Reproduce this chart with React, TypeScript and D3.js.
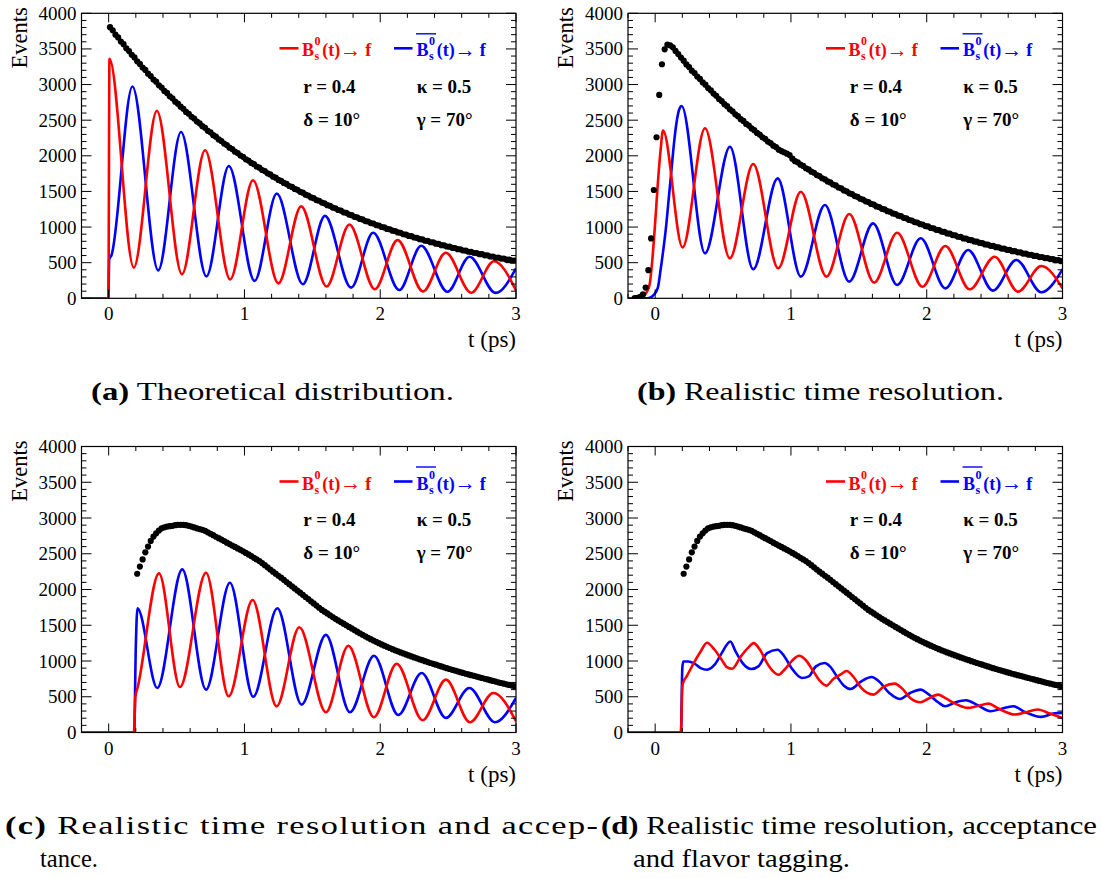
import React from 'react';
import * as d3 from 'd3';

// ---------- data ----------
const T_DOMAIN: [number, number] = [-0.2, 3];
const Y_DOMAIN: [number, number] = [0, 4000];
const X_MAJOR = [0, 1, 2, 3];
const Y_MAJOR = [0, 500, 1000, 1500, 2000, 2500, 3000, 3500, 4000];
const BIN_WIDTH = 0.02;

// black points (sum), bin centres start at *_first, step BIN_WIDTH
const blackA_first = 0.01;
const blackA = [
  3805, 3762, 3700, 3661, 3604, 3566, 3508, 3470, 3418, 3381,
  3326, 3290, 3238, 3205, 3152, 3120, 3070, 3040, 2990, 2958,
  2910, 2882, 2835, 2806, 2760, 2731, 2689, 2660, 2616, 2590,
  2548, 2522, 2480, 2456, 2416, 2392, 2351, 2329, 2290, 2268,
  2230, 2208, 2171, 2150, 2114, 2094, 2058, 2039, 2004, 1986,
  1951, 1933, 1900, 1883, 1850, 1833, 1801, 1785, 1754, 1738,
  1707, 1693, 1662, 1648, 1619, 1605, 1576, 1563, 1535, 1522,
  1494, 1482, 1455, 1443, 1416, 1405, 1379, 1369, 1343, 1333,
  1307, 1298, 1273, 1264, 1239, 1231, 1207, 1199, 1175, 1167,
  1144, 1137, 1114, 1107, 1084, 1078, 1056, 1050, 1028, 1022,
  1001, 995, 974, 969, 949, 944, 924, 919, 899, 895,
  876, 872, 853, 849, 830, 827, 808, 806, 787, 785,
  766, 764, 746, 744, 727, 725, 708, 706, 689, 688,
  671, 670, 653, 652, 636, 635, 619, 619, 603, 603,
  587, 587, 572, 572, 557, 557, 542, 543, 528, 529,
];

const blackB_first = -0.19;
const blackB = [
  0, 0, 3, 8, 22, 55, 150, 395, 840, 1520,
  2260, 2855, 3285, 3495, 3560, 3550, 3522, 3472, 3428, 3378,
  3335, 3282, 3246, 3195, 3161, 3112, 3079, 3030, 2998, 2950,
  2919, 2873, 2843, 2797, 2768, 2724, 2696, 2652, 2625, 2582,
  2556, 2514, 2489, 2448, 2424, 2384, 2360, 2321, 2298, 2260,
  2238, 2200, 2179, 2142, 2122, 2086, 2066, 2050, 2030, 2010,
  1960, 1925, 1908, 1875, 1858, 1825, 1809, 1777, 1762, 1730,
  1715, 1685, 1670, 1640, 1627, 1597, 1584, 1555, 1543, 1514,
  1502, 1474, 1463, 1435, 1424, 1397, 1387, 1361, 1351, 1325,
  1315, 1290, 1281, 1256, 1247, 1223, 1215, 1191, 1183, 1159,
  1152, 1129, 1122, 1099, 1092, 1070, 1064, 1042, 1036, 1014,
  1009, 987, 982, 961, 957, 936, 932, 911, 907, 887,
  884, 864, 861, 841, 838, 819, 816, 798, 795, 777,
  774, 756, 754, 736, 735, 717, 716, 698, 697, 680,
  679, 662, 661, 645, 644, 628, 627, 611, 611, 595,
  595, 579, 580, 564, 565, 550, 550, 535, 536, 521,
];

const blackCD_first = 0.21;
const blackCD = [
  2220, 2320, 2420, 2520, 2600, 2680, 2740, 2785, 2825, 2855,
  2870, 2880, 2885, 2890, 2900, 2905, 2905, 2905, 2900, 2890,
  2880, 2868, 2855, 2845, 2835, 2820, 2800, 2780, 2760, 2738,
  2718, 2698, 2678, 2655, 2635, 2615, 2595, 2575, 2555, 2535,
  2512, 2490, 2467, 2443, 2420, 2398, 2370, 2340, 2310, 2280,
  2250, 2222, 2192, 2165, 2135, 2105, 2075, 2045, 2015, 1985,
  1955, 1925, 1895, 1866, 1835, 1805, 1775, 1745, 1715, 1690,
  1665, 1640, 1615, 1590, 1567, 1545, 1522, 1500, 1477, 1455,
  1432, 1410, 1388, 1366, 1345, 1325, 1305, 1286, 1268, 1250,
  1232, 1215, 1198, 1182, 1166, 1150, 1135, 1120, 1106, 1092,
  1078, 1064, 1050, 1037, 1024, 1011, 998, 985, 972, 960,
  948, 936, 924, 912, 900, 888, 877, 866, 855, 844,
  833, 822, 812, 802, 792, 782, 772, 762, 752, 742,
  732, 722, 712, 702, 692, 683, 674, 665, 656, 647,
];

// red = B0s -> f, blue = anti-B0s -> f ; [t (ps), events]
const redA: [number, number][] = [
  [-0.2, 0], [-0.002, 0], [0.006, 3360], [0.185, 430], [0.355, 2630], [0.54, 338],
  [0.71, 2077], [0.895, 266], [1.063, 1657], [1.25, 210], [1.418, 1290], [1.605, 166],
  [1.773, 1036], [1.96, 128], [2.128, 817], [2.315, 96], [2.483, 640], [2.67, 78],
  [2.838, 520], [3.0, 110],
];
const blueA: [number, number][] = [
  [-0.2, 0], [-0.002, 0], [0.004, 546], [0.02, 600], [0.175, 2973], [0.365, 392],
  [0.533, 2333], [0.72, 308], [0.885, 1857], [1.075, 245], [1.238, 1470], [1.43, 198],
  [1.593, 1157], [1.785, 150], [1.948, 919], [2.14, 116], [2.302, 737], [2.495, 92],
  [2.658, 583], [2.85, 76], [3.0, 420],
];
const redB: [number, number][] = [
  [-0.2, 0], [-0.12, 8], [-0.08, 40], [-0.06, 95], [-0.04, 200], [-0.02, 560], [0.0, 1060],
  [0.02, 1620], [0.04, 2080], [0.058, 2353], [0.202, 714], [0.367, 2386], [0.55, 561],
  [0.722, 1885], [0.906, 421], [1.073, 1496], [1.262, 304], [1.429, 1183], [1.613, 220],
  [1.782, 920], [1.968, 163], [2.137, 733], [2.317, 126], [2.5, 584], [2.672, 94],
  [2.844, 453], [3.0, 140],
];
const blueB: [number, number][] = [
  [-0.2, 0], [-0.06, 0], [-0.03, 15], [-0.01, 50], [0.02, 150], [0.04, 400], [0.06, 680],
  [0.08, 1000], [0.1, 1400], [0.12, 1800], [0.14, 2200], [0.16, 2500], [0.177, 2650],
  [0.195, 2699], [0.367, 632], [0.551, 2128], [0.722, 407], [0.902, 1683], [1.073, 304],
  [1.25, 1309], [1.429, 234], [1.605, 1052], [1.782, 187], [1.956, 842], [2.137, 140],
  [2.305, 678], [2.488, 108], [2.66, 537], [2.844, 84], [3.0, 407],
];
const redC: [number, number][] = [
  [-0.2, 0], [0.186, 0], [0.197, 500], [0.215, 640], [0.371, 2225], [0.525, 636],
  [0.717, 2235], [0.884, 506], [1.06, 1854], [1.237, 367], [1.404, 1473], [1.6, 283],
  [1.765, 1213], [1.954, 214], [2.121, 962], [2.312, 172], [2.484, 739], [2.661, 144],
  [2.833, 553], [3.0, 158],
];
const blueC: [number, number][] = [
  [-0.2, 0], [0.188, 0], [0.2, 1200], [0.212, 1738], [0.358, 623], [0.542, 2281],
  [0.717, 600], [0.893, 2095], [1.065, 500], [1.242, 1738], [1.421, 390], [1.6, 1366],
  [1.777, 283], [1.954, 1073], [2.133, 245], [2.305, 832], [2.484, 204], [2.656, 623],
  [2.845, 144], [3.0, 483],
];
const redD: [number, number][] = [
  [-0.2, 0], [0.19, 0], [0.2, 640], [0.207, 700], [0.232, 785], [0.284, 971], [0.335, 1134],
  [0.382, 1255], [0.438, 1157], [0.49, 1018], [0.528, 915], [0.567, 892], [0.631, 1064],
  [0.682, 1180], [0.726, 1250], [0.772, 1157], [0.824, 971], [0.862, 869], [0.91, 808],
  [0.952, 878], [1.004, 995], [1.06, 1073], [1.107, 1018], [1.158, 878], [1.21, 730],
  [1.261, 655], [1.312, 748], [1.364, 808], [1.41, 860], [1.467, 762], [1.518, 623],
  [1.608, 530], [1.686, 646], [1.763, 683], [1.827, 600], [1.878, 483], [1.955, 423],
  [2.007, 469], [2.084, 530], [2.135, 483], [2.213, 400], [2.302, 344], [2.367, 367],
  [2.457, 404], [2.52, 344], [2.65, 251], [2.727, 283], [2.817, 321], [2.907, 265], [3.0, 204],
];
const blueD: [number, number][] = [
  [-0.2, 0], [0.19, 0], [0.2, 900], [0.207, 994], [0.245, 994], [0.284, 971], [0.335, 901],
  [0.382, 878], [0.438, 948], [0.49, 1110], [0.554, 1273], [0.592, 1134], [0.644, 971],
  [0.708, 888], [0.76, 925], [0.824, 1110], [0.901, 1157], [0.952, 1064], [1.004, 901],
  [1.081, 762], [1.132, 785], [1.184, 925], [1.248, 971], [1.287, 925], [1.338, 785],
  [1.39, 655], [1.441, 609], [1.518, 716], [1.595, 776], [1.647, 716], [1.724, 553],
  [1.801, 469], [1.878, 553], [1.955, 600], [2.007, 544], [2.084, 423], [2.135, 367],
  [2.213, 423], [2.29, 451], [2.367, 390], [2.47, 297], [2.547, 330], [2.637, 367],
  [2.727, 283], [2.843, 218], [2.932, 265], [3.0, 274],
];

const paramRow1 = ['r = 0.4', 'κ = 0.5'];
const paramRow2 = ['δ = 10°', 'γ = 70°'];
const X_TITLE = 't (ps)';
const Y_TITLE = 'Events';

// ---------- layout ----------
const FONT = "Liberation Serif, Times New Roman, serif";
const RED = '#ff0000';
const BLUE = '#0000ff';

type PanelCfg = {
  id: string; left: number; right: number; top: number; bottom: number;
  black: number[]; blackFirst: number; red: [number, number][]; blue: [number, number][];
};

const panels: PanelCfg[] = [
  { id: 'a', left: 81.5, right: 516, top: 13.3, bottom: 298.3, black: blackA, blackFirst: blackA_first, red: redA, blue: blueA },
  { id: 'b', left: 628, right: 1062.5, top: 13.3, bottom: 298.3, black: blackB, blackFirst: blackB_first, red: redB, blue: blueB },
  { id: 'c', left: 81.5, right: 516, top: 446.5, bottom: 732.5, black: blackCD, blackFirst: blackCD_first, red: redC, blue: blueC },
  { id: 'd', left: 628, right: 1062.5, top: 446.5, bottom: 732.5, black: blackCD, blackFirst: blackCD_first, red: redD, blue: blueD },
];

function LegendLabel({ x, y, color }: { x: number; y: number; color: string }) {
  return (
    <text x={x} y={y} fill={color} fontSize={18} fontFamily={FONT} fontWeight="bold">
      B
      <tspan fontSize={12} dx={0.6} dy={-11}>0</tspan>
      <tspan fontSize={12} dx={-6} dy={15}>s</tspan>
      <tspan fontSize={18} dx={3} dy={-4}>(t)</tspan>
      <tspan fontSize={21} fontWeight="normal" dy={0.5}>→</tspan>
      <tspan fontSize={18} dx={4} dy={-0.5}>f</tspan>
    </text>
  );
}

function Panel({ p }: { p: PanelCfg }) {
  const x = d3.scaleLinear().domain(T_DOMAIN).range([p.left, p.right]);
  const y = d3.scaleLinear().domain(Y_DOMAIN).range([p.bottom, p.top]);
  const line = d3.line<[number, number]>().x(d => x(d[0])).y(d => y(d[1])).curve(d3.curveMonotoneX);
  const xMinor = d3.range(-1, 16).map(i => i * 0.2);
  const yMinor = d3.range(0, 4001, 100);
  const clip = `clip-${p.id}`;
  const L = p.left, T = p.top;
  const redX = L + 220.5, blueX = L + 335;
  return (
    <g>
      <defs>
        <clipPath id={clip}>
          <rect x={p.left} y={p.top - 1} width={p.right - p.left} height={p.bottom - p.top + 1} />
        </clipPath>
      </defs>
      <g clipPath={`url(#${clip})`}>
        <path d={line(p.blue) || ''} fill="none" stroke={BLUE} strokeWidth={2.6} />
        <path d={line(p.red) || ''} fill="none" stroke={RED} strokeWidth={2.6} />
        {p.black.map((v, i) => v > 0 ? (
          <circle key={i} cx={x(p.blackFirst + i * BIN_WIDTH)} cy={y(v)} r={3.1} fill="#000" />
        ) : null)}
      </g>
      {/* frame */}
      <rect x={p.left} y={p.top} width={p.right - p.left} height={p.bottom - p.top} fill="none" stroke="#000" strokeWidth={1.2} />
      {/* ticks */}
      {yMinor.map(v => {
        const len = v % 500 === 0 ? 10 : 5;
        return (
          <g key={'y' + v}>
            <line x1={p.left} x2={p.left + len} y1={y(v)} y2={y(v)} stroke="#000" strokeWidth={1} />
            <line x1={p.right} x2={p.right - len} y1={y(v)} y2={y(v)} stroke="#000" strokeWidth={1} />
          </g>
        );
      })}
      {xMinor.map((v, i) => {
        const major = X_MAJOR.some(m => Math.abs(m - v) < 1e-6);
        const len = major ? 9 : 4.5;
        return (
          <g key={'x' + i}>
            <line x1={x(v)} x2={x(v)} y1={p.bottom} y2={p.bottom - len} stroke="#000" strokeWidth={1} />
            <line x1={x(v)} x2={x(v)} y1={p.top} y2={p.top + len} stroke="#000" strokeWidth={1} />
          </g>
        );
      })}
      {/* tick labels */}
      <g fontFamily={FONT} fontSize={19} fill="#000">
        {Y_MAJOR.map(v => (
          <text key={'yl' + v} x={p.left - 5} y={y(v) + 6.5} textAnchor="end">{v}</text>
        ))}
        {X_MAJOR.map(v => (
          <text key={'xl' + v} x={x(v)} y={p.bottom + 22} textAnchor="middle">{v}</text>
        ))}
      </g>
      <text x={p.right} y={p.bottom + 49} textAnchor="end" fontFamily={FONT} fontSize={23}>{X_TITLE}</text>
      <text transform={`translate(${p.left - 55},${p.top - 6}) rotate(-90)`} textAnchor="end" fontFamily={FONT} fontSize={22.5}>{Y_TITLE}</text>
      {/* legend */}
      <line x1={L + 198} x2={L + 217} y1={T + 35} y2={T + 35} stroke={RED} strokeWidth={2.6} />
      <LegendLabel x={redX} y={T + 43} color={RED} />
      <line x1={L + 312.5} x2={L + 331} y1={T + 35} y2={T + 35} stroke={BLUE} strokeWidth={2.6} />
      <line x1={blueX - 0.5} x2={blueX + 19.5} y1={T + 20.5} y2={T + 20.5} stroke={BLUE} strokeWidth={1.4} />
      <LegendLabel x={blueX} y={T + 43} color={BLUE} />
      <g fontFamily={FONT} fontWeight="bold" fontSize={19} fill="#000">
        <text x={L + 221.8} y={T + 79.2}>{paramRow1[0]}</text>
        <text x={L + 335.2} y={T + 79.2}>{paramRow1[1]}</text>
        <text x={L + 221.8} y={T + 112.7}>{paramRow2[0]}</text>
        <text x={L + 335.2} y={T + 112.7}>{paramRow2[1]}</text>
      </g>
    </g>
  );
}

type Cap = { tag: string; text: string; x: number; y: number; w: number; justify?: boolean };

const captions: Cap[] = [
  { tag: '(a)', text: ' Theoretical distribution.', x: 91, y: 399.5, w: 363 },
  { tag: '(b)', text: ' Realistic time resolution.', x: 637, y: 399.5, w: 367 },
  { tag: '(c)', text: ' Realistic time resolution and accep-', x: 5, y: 834, w: 593, justify: true },
  { tag: '(d)', text: ' Realistic time resolution, acceptance', x: 601, y: 834, w: 496 },
  { tag: '', text: 'tance.', x: 40, y: 867, w: 58 },
  { tag: '', text: 'and flavor tagging.', x: 633, y: 867, w: 217 },
];
const CAP_SX = 1.4;

function Caption({ c }: { c: Cap }) {
  const body = (
    <>
      {c.tag ? <tspan fontWeight="bold">{c.tag}</tspan> : null}
      <tspan>{c.text}</tspan>
    </>
  );
  if (c.justify) {
    return (
      <text transform={`translate(${c.x},${c.y}) scale(${CAP_SX},1)`}
        textLength={c.w / CAP_SX} lengthAdjust="spacing">
        {body}
      </text>
    );
  }
  return (
    <text x={c.x} y={c.y} textLength={c.w} lengthAdjust="spacingAndGlyphs">{body}</text>
  );
}

export default function App() {
  return (
    <svg width={1102} height={879} viewBox="0 0 1102 879"
      style={{ position: 'absolute', left: 0, top: 0, background: '#fff' }}>
      <rect x={0} y={0} width={1102} height={879} fill="#fff" />
      {panels.map(p => <Panel key={p.id} p={p} />)}
      <g fontFamily={FONT} fontSize={24.5} fill="#000">
        {captions.map((c, i) => <Caption key={i} c={c} />)}
      </g>
    </svg>
  );
}
